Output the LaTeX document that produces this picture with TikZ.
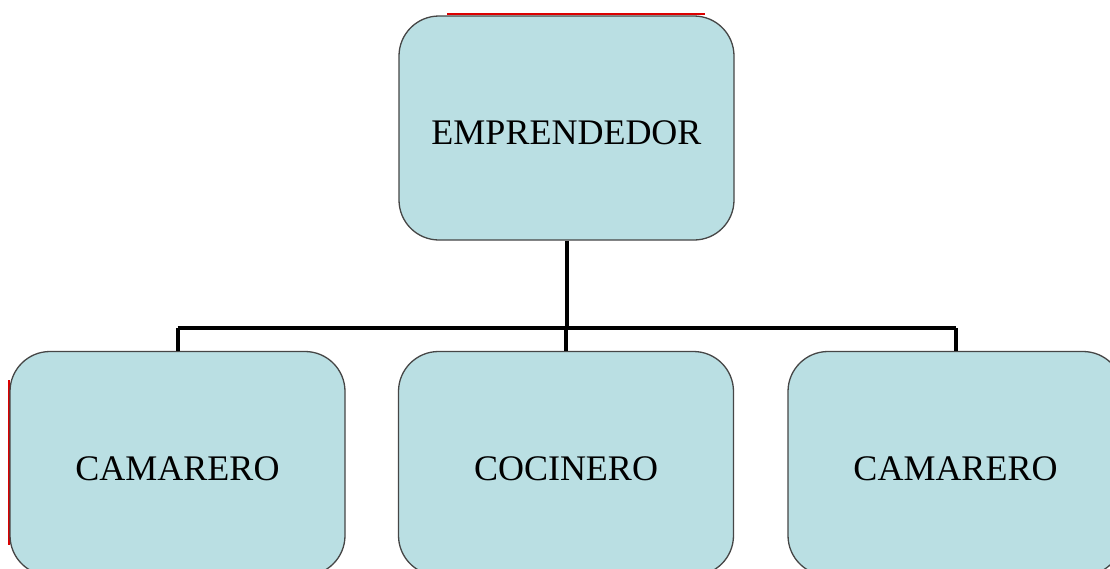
\documentclass[tikz,border=0pt]{standalone}
\usepackage{fontspec}
\setmainfont{Liberation Serif}
\definecolor{boxfill}{RGB}{186,223,227}
\definecolor{boxline}{RGB}{70,70,70}
\definecolor{redmark}{RGB}{220,0,0}
\newcommand{\boxtext}[1]{\raisebox{-16.5pt}[0pt][0pt]{#1}}
\begin{document}
\begin{tikzpicture}[x=1pt,y=1pt,
  orgbox/.style={draw=boxline, line width=1.3pt, fill=boxfill, rounded corners=40pt,
    minimum width=335pt, minimum height=224pt, inner sep=0pt,
    font=\fontsize{36}{40}\selectfont, text=black},
  link/.style={draw=black, line width=4pt}]
\useasboundingbox (0,0) rectangle (1110,-568);
\clip (0,0) rectangle (1110,-568);
\fill[white] (0,0) rectangle (1110,-568);
% red marks
\coordinate (r1) at (447,-14);
\coordinate (r2) at (705,-14);
\coordinate (r3) at (9,-380);
\coordinate (r4) at (9,-545);
\draw[redmark, line width=2.5pt] (r1) -- (r2);
\draw[redmark, line width=2.5pt] (r3) -- (r4);
% nodes
\node[orgbox] (top) at (566.5,-128) {\boxtext{EMPRENDEDOR}};
\node[orgbox] (left) at (177.5,-463.5) {\boxtext{CAMARERO}};
\node[orgbox] (mid) at (566,-463.5) {\boxtext{COCINERO}};
\node[orgbox] (right) at (955.5,-463.5) {\boxtext{CAMARERO}};
% connectors
\coordinate (bus) at (566,-328);
\draw[link] (top.south) -- (top.south |- bus);
\draw[link] (left.north |- bus) -- (right.north |- bus);
\draw[link] (left.north |- bus) -- (left.north);
\draw[link] (mid.north |- bus) -- (mid.north);
\draw[link] (right.north |- bus) -- (right.north);
\end{tikzpicture}
\end{document}
